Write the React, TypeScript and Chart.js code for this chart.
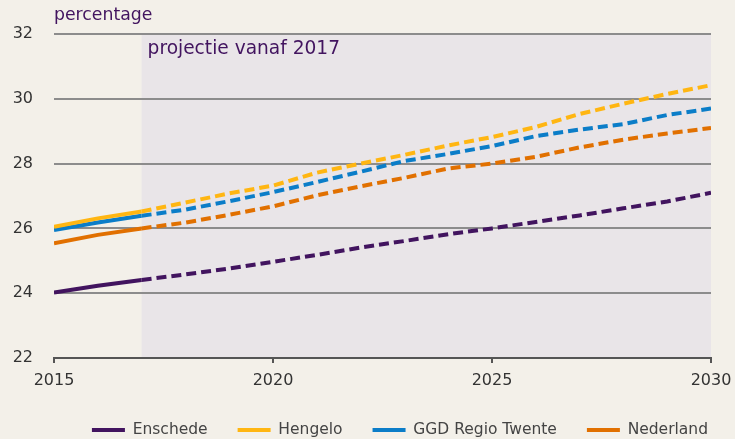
import React, { useEffect, useRef } from "react";
import { Chart, registerables } from "chart.js";

Chart.register(...registerables);

const years = [2015, 2016, 2017, 2018, 2019, 2020, 2021, 2022, 2023, 2024, 2025, 2026, 2027, 2028, 2029, 2030];
const enschede = [24.02, 24.23, 24.41, 24.58, 24.76, 24.97, 25.18, 25.41, 25.61, 25.82, 26.0, 26.2, 26.4, 26.62, 26.83, 27.1];
const hengelo = [26.05, 26.31, 26.52, 26.8, 27.08, 27.32, 27.72, 28.0, 28.27, 28.56, 28.82, 29.13, 29.53, 29.85, 30.15, 30.42];
const ggdTwente = [25.95, 26.18, 26.39, 26.58, 26.84, 27.12, 27.43, 27.75, 28.08, 28.3, 28.54, 28.85, 29.05, 29.22, 29.5, 29.7];
const nederland = [25.54, 25.8, 26.0, 26.18, 26.42, 26.68, 27.02, 27.3, 27.56, 27.85, 28.0, 28.21, 28.5, 28.74, 28.93, 29.1];
const seriesNames = ["Enschede", "Hengelo", "GGD Regio Twente", "Nederland"];
const yTicks = [22, 24, 26, 28, 30, 32];
const xTicks = [2015, 2020, 2025, 2030];
const projectionStart = 2017;
const yTitle = "percentage";
const projectionLabel = "projectie vanaf 2017";

const colors = ["#42145f", "#ffb612", "#0b7dc8", "#e17000"];
const FONT = "'DejaVu Sans', Verdana, sans-serif";

export default function App() {
  const ref = useRef<HTMLCanvasElement | null>(null);

  useEffect(() => {
    const canvas = ref.current;
    if (!canvas) return;
    const allSeries = [enschede, hengelo, ggdTwente, nederland];

    const bgPlugin = {
      id: "bgShade",
      beforeDraw(chart: any) {
        const { ctx, chartArea, scales } = chart;
        ctx.save();
        ctx.fillStyle = "#f3f0e9";
        ctx.fillRect(0, 0, chart.width, chart.height);
        const x0 = scales.x.getPixelForValue(projectionStart);
        ctx.fillStyle = "#e9e5e8";
        ctx.fillRect(x0, chartArea.top, chartArea.right - x0, chartArea.bottom - chartArea.top);
        ctx.restore();
      },
      afterDraw(chart: any) {
        const { ctx, chartArea, scales } = chart;
        ctx.save();
        ctx.fillStyle = "#42145f";
        ctx.textAlign = "left";
        ctx.textBaseline = "middle";
        ctx.font = `17.3px ${FONT}`;
        ctx.fillText(yTitle, chartArea.left, 16);
        ctx.font = `18.6px ${FONT}`;
        const x0 = scales.x.getPixelForValue(projectionStart);
        ctx.fillText(projectionLabel, x0 + 6, 49);
        ctx.restore();
      },
    };

    const chart = new Chart(canvas, {
      type: "line",
      data: {
        datasets: allSeries.map((vals, i) => ({
          label: seriesNames[i],
          data: years.map((yr, j) => ({ x: yr, y: vals[j] })),
          borderColor: colors[i],
          backgroundColor: colors[i],
          borderWidth: 4,
          pointRadius: 0,
          borderCapStyle: "butt",
          tension: 0,
          segment: {
            borderDash: (ctx: any) => (ctx.p0.parsed.x >= projectionStart ? [10, 5] : undefined),
          },
        })),
      },
      options: {
        animation: false,
        responsive: false,
        maintainAspectRatio: false,
        layout: { padding: { left: 0, top: 34, right: -3, bottom: -8.75 } },
        plugins: {
          tooltip: { enabled: false },
          legend: {
            position: "bottom",
            align: "end",
            labels: {
              usePointStyle: true,
              pointStyle: "line",
              pointStyleWidth: 33,
              padding: 30,
              color: "#444",
              font: { family: FONT, size: 15.5 },
            },
          },
        },
        scales: {
          x: {
            type: "linear",
            min: 2015,
            max: 2030,
            afterBuildTicks: (scale: any) => {
              scale.ticks = xTicks.map((v) => ({ value: v }));
            },
            afterFit: (scale: any) => {
              scale.height = 34.25;
              scale.paddingLeft = 0;
              scale.paddingRight = 24;
            },
            grid: {
              drawOnChartArea: false,
              drawTicks: true,
              tickLength: 5,
              color: "#555",
              lineWidth: 2,
            },
            border: { display: true, color: "#555", width: 2 },
            ticks: {
              padding: 8,
              maxRotation: 0,
              autoSkip: false,
              color: "#333",
              font: { family: FONT, size: 16 },
              callback: (v: any) => String(v),
            },
          },
          y: {
            min: 22,
            max: 32,
            afterBuildTicks: (scale: any) => {
              scale.ticks = yTicks.map((v) => ({ value: v }));
            },
            afterFit: (scale: any) => {
              scale.width = 54;
            },
            border: { display: false },
            grid: {
              drawTicks: false,
              color: (c: any) => (c.tick && c.tick.value === 22 ? "#555" : "#8c8c8c"),
              lineWidth: 2,
            },
            ticks: {
              padding: 21,
              color: "#333",
              font: { family: FONT, size: 16 },
              callback: (v: any) => String(v),
            },
          },
        },
      },
      plugins: [bgPlugin],
    } as any);

    return () => chart.destroy();
  }, []);

  return (
    <div style={{ position: "fixed", left: 0, top: 0, width: 735, height: 439, background: "#f3f0e9" }}>
      <canvas ref={ref} width={735} height={439} style={{ display: "block" }} />
    </div>
  );
}
